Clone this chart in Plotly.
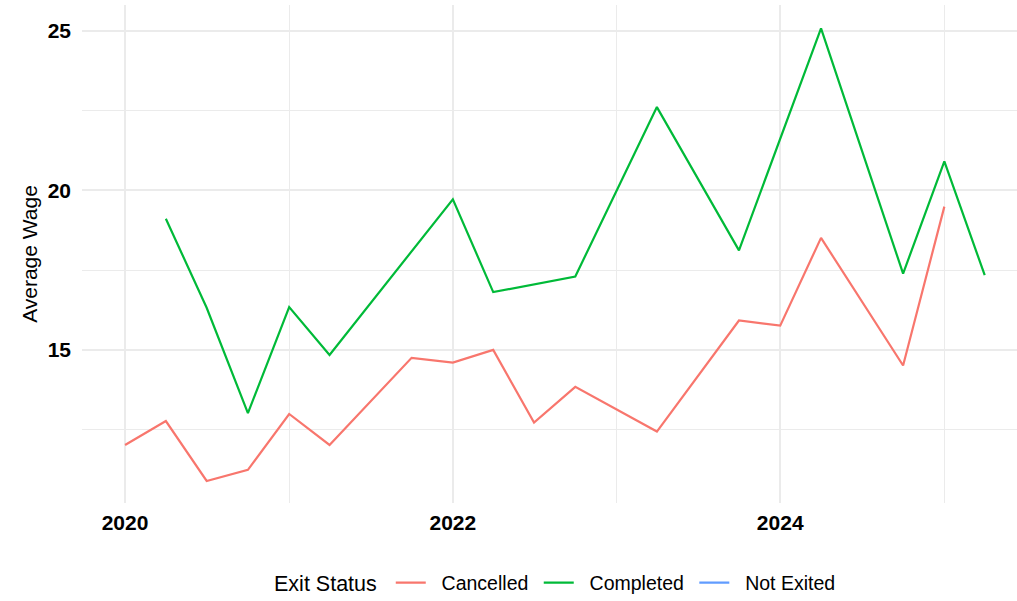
import plotly.graph_objects as go

# quarterly average wage by exit status
cancelled_dates = ["2020-01-01", "2020-04-01", "2020-07-01", "2020-10-01", "2021-01-01",
	"2021-04-01", "2021-10-01", "2022-01-01", "2022-04-01", "2022-07-01", "2022-10-01",
	"2023-04-01", "2023-10-01", "2024-01-01", "2024-04-01", "2024-10-01", "2025-01-01"]
cancelled_wage = [12.02, 12.77, 10.89, 11.24, 12.99, 12.02, 14.75, 14.60, 15.00, 12.72,
	13.84, 12.44, 15.92, 15.76, 18.51, 14.51, 19.49]

completed_dates = ["2020-04-01", "2020-07-01", "2020-10-01", "2021-01-01", "2021-04-01",
	"2022-01-01", "2022-04-01", "2022-10-01", "2023-04-01", "2023-10-01", "2024-04-01",
	"2024-10-01", "2025-01-01", "2025-04-01"]
completed_wage = [19.11, 16.32, 13.02, 16.34, 14.84, 19.72, 16.81, 17.30, 22.61, 18.12,
	25.08, 17.39, 20.91, 17.34]

# no data left for this group, it only shows up in the legend
not_exited_dates = [None]
not_exited_wage = [None]

FONT = "Liberation Sans, Arial, sans-serif"
GRID = "#EBEBEB"

fig = go.Figure()
fig.add_trace(go.Scatter(x=cancelled_dates, y=cancelled_wage, mode="lines",
	name="  Cancelled ", line=dict(color="#F8766D", width=2.2)))
fig.add_trace(go.Scatter(x=completed_dates, y=completed_wage, mode="lines",
	name="  Completed ", line=dict(color="#00BA38", width=2.2)))
fig.add_trace(go.Scatter(x=not_exited_dates, y=not_exited_wage, mode="lines",
	name="  Not Exited", line=dict(color="#619CFF", width=2.2)))

fig.update_layout(
	width=1017, height=601,
	margin=dict(l=82, r=0, t=5, b=98, autoexpand=False),
	plot_bgcolor="white", paper_bgcolor="white",
	font=dict(family=FONT, size=20, color="black"),
	legend=dict(orientation="h", x=0.5075, xanchor="center",
		yref="container", y=0.03, yanchor="middle",
		title=dict(text="Exit Status ", font=dict(size=21.5)),
		font=dict(size=19.5)),
)
fig.update_xaxes(
	type="date", range=["2019-09-27", "2025-06-12"],
	dtick="M24", tick0="2020-01-01", tickformat="%Y",
	tickfont=dict(family=FONT, size=21, color="black", weight="bold"),
	showgrid=True, gridcolor=GRID, gridwidth=1.6,
	minor=dict(dtick="M12", tick0="2021-01-01", showgrid=True, gridcolor=GRID, gridwidth=1),
	zeroline=False, showline=False, ticks="", ticklabelstandoff=5,
	automargin=False, title=None,
)
fig.update_yaxes(
	range=[10.2, 25.81], dtick=5, tick0=0,
	tickfont=dict(family=FONT, size=21, color="black", weight="bold"),
	showgrid=True, gridcolor=GRID, gridwidth=1.6,
	minor=dict(dtick=2.5, tick0=0, showgrid=True, gridcolor=GRID, gridwidth=1),
	zeroline=False, showline=False, ticks="", ticklabelstandoff=10,
	automargin=False,
	title=dict(text="Average Wage", font=dict(size=21), standoff=4),
)

# drop the default 8px body margin so the figure fills the window
fig.write_html("out.html", config={"displayModeBar": False},
	post_script="document.body.style.margin = '0';")
